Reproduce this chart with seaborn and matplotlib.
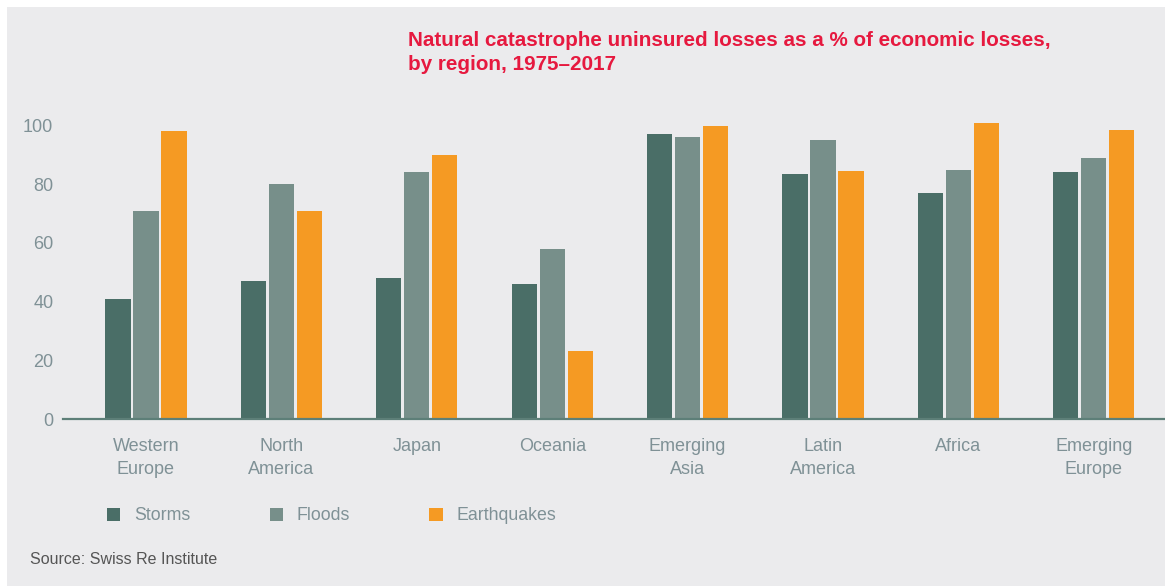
import matplotlib
matplotlib.use("Agg")
import matplotlib.pyplot as plt
from matplotlib.patches import Rectangle
import seaborn as sns
import pandas as pd

regions = ["Western\nEurope", "North\nAmerica", "Japan", "Oceania",
           "Emerging\nAsia", "Latin\nAmerica", "Africa", "Emerging\nEurope"]
storms = [41, 47, 48, 46, 97, 83.5, 77, 84]
floods = [71, 80, 84, 58, 96, 95, 85, 89]
earthquakes = [98, 71, 90, 23, 100, 84.5, 101, 98.5]
series_names = ["Storms", "Floods", "Earthquakes"]
y_ticks = [0, 20, 40, 60, 80, 100]

title = "Natural catastrophe uninsured losses as a % of economic losses,\nby region, 1975\u20132017"
source = "Source: Swiss Re Institute"

colors = {"Storms": "#4a6e67", "Floods": "#778f8a", "Earthquakes": "#f59a23"}
bg = "#ebebed"
tick_col = "#7f9196"

sns.set_style("white")
plt.rcParams["font.family"] = ["Liberation Sans", "DejaVu Sans"]

rows = []
for name, vals in zip(series_names, [storms, floods, earthquakes]):
    for r, v in zip(regions, vals):
        rows.append({"region": r, "value": v, "hazard": name})
df = pd.DataFrame(rows)

W, H = 1165, 586
fig = plt.figure(figsize=(W / 100, H / 100), dpi=100)
fig.patch.set_facecolor("white")
fig.patches.append(Rectangle((7 / W, 0), 1, 1 - 7 / H, transform=fig.transFigure,
                             facecolor=bg, edgecolor="none", zorder=-10))

ax_left, ax_right = 63 / W, 1.0
ax_bottom = 1 - 419 / H
ax_top = 1 - 110 / H
ax = fig.add_axes([ax_left, ax_bottom, ax_right - ax_left, ax_top - ax_bottom])
ax.set_facecolor("none")

sns.barplot(data=df, x="region", y="value", hue="hazard", hue_order=series_names,
            order=regions, palette=colors, width=0.62, gap=0.1, ax=ax,
            saturation=1, edgecolor="none")

x0 = 146
pitch = 135.4
ax.set_xlim((63 - x0) / pitch, (1165 - x0) / pitch)
ax.set_ylim(0, (419 - 110) / 2.935)
ax.set_yticks(y_ticks)
ax.set_xlabel("")
ax.set_ylabel("")
for s in ["top", "right", "left"]:
    ax.spines[s].set_visible(False)
ax.spines["bottom"].set_color("#5d7f78")
ax.spines["bottom"].set_linewidth(1.6)
ax.tick_params(axis="both", length=0, labelsize=13, labelcolor=tick_col)
ax.tick_params(axis="y", pad=7)
ax.tick_params(axis="x", pad=13.5)
for lab in ax.get_xticklabels():
    lab.set_linespacing(1.45)

sns.move_legend(ax, "center left", bbox_to_anchor=((107 - 63) / (W - 63), (419 - 516) / 309),
                ncol=3, frameon=False, title=None, fontsize=12.75,
                handlelength=0.76, handleheight=0.76, handletextpad=0.75,
                columnspacing=4.5, borderpad=0, borderaxespad=0,
                labelcolor=tick_col)

fig.text(408 / W, 1 - 31 / H, title, color="#e6193f", fontsize=14.9,
         fontweight="bold", va="top", ha="left", linespacing=1.3)
fig.text(30 / W, 1 - 560 / H, source, color="#555555", fontsize=11.5, va="center", ha="left")

fig.savefig("out.png", dpi=100, facecolor=fig.get_facecolor())
